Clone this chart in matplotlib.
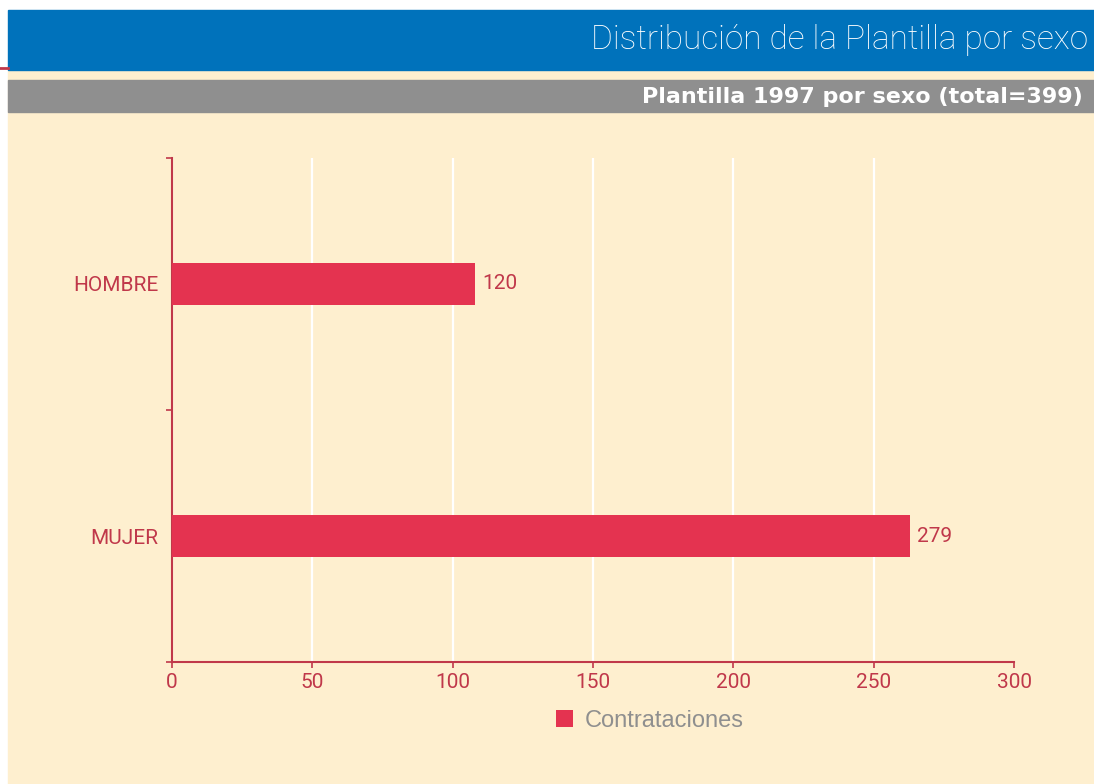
import matplotlib
matplotlib.use("Agg")
import matplotlib.pyplot as plt
from matplotlib.patches import Rectangle
from matplotlib.lines import Line2D

# data
categories = ["HOMBRE", "MUJER"]
bar_lengths = [108, 263]
value_labels = ["120", "279"]
x_ticks = [0, 50, 100, 150, 200, 250, 300]
series_name = "Contrataciones"
title = "Distribución de la Plantilla por sexo"
subtitle = "Plantilla 1997 por sexo (total=399)"

blue = "#0072BB"
grey = "#8F8F8F"
cream = "#FEEFCF"
bar_red = "#E43350"
axis_red = "#C0384A"
narrow = ["Roboto", "DejaVu Sans"]

W, H = 1094, 784
fig = plt.figure(figsize=(W / 100, H / 100), dpi=100)
fig.patch.set_facecolor("white")

# background bands (figure pixel coords -> fractions)
def band(x0, y0, x1, y1, color):
    fig.patches.append(Rectangle((x0 / W, 1 - y1 / H), (x1 - x0) / W, (y1 - y0) / H,
                                 transform=fig.transFigure, color=color, zorder=0))

band(8, 70, W, 784, cream)
band(8, 10, W, 70, blue)
band(8, 80, W, 112, grey)
fig.lines.append(Line2D([0, 8 / W], [1 - 68 / H, 1 - 68 / H], transform=fig.transFigure,
                        color=axis_red, lw=2))

fig.text(1088 / W, 1 - 40 / H, title, ha="right", va="center", color="white",
         fontsize=24, fontweight="light", family=narrow)
fig.text(1083 / W, 1 - 97 / H, subtitle, ha="right", va="center", color="white",
         fontsize=16, fontweight="bold", family="DejaVu Sans")

ax = fig.add_axes([172 / W, 1 - 662 / H, 842 / W, 504 / H])
ax.set_zorder(5)
ax.patch.set_alpha(0)

ypos = list(range(len(categories)))
bars = ax.barh(ypos, bar_lengths, height=0.17, color=bar_red, zorder=3, label=series_name)
for b, lab in zip(bars, value_labels):
    ax.text(b.get_width() + 2.5, b.get_y() + b.get_height() / 2, lab, va="center", ha="left",
            color=axis_red, fontsize=15, family=narrow)

ax.set_xlim(0, 300)
ax.set_ylim(1.5, -0.5)
ax.set_xticks(x_ticks)
ax.set_xticklabels([str(t) for t in x_ticks], family=narrow)
ax.set_yticks([-0.5, 0.5, 1.5])
ax.set_yticklabels([])
ax.set_yticks(ypos, minor=True)
ax.set_yticklabels(categories, minor=True, family=narrow)
ax.tick_params(axis="y", which="minor", length=0, pad=10, labelsize=15, labelcolor=axis_red)
ax.tick_params(axis="y", which="major", length=4, color=axis_red, width=1.2)
ax.tick_params(axis="x", length=4, color=axis_red, width=1.2, labelsize=15,
               labelcolor=axis_red, pad=4)

ax.grid(axis="x", color="white", lw=1.6, zorder=1)
ax.get_xgridlines()[-1].set_visible(False)
ax.set_axisbelow(True)
for s in ["top", "right"]:
    ax.spines[s].set_visible(False)
for s in ["left", "bottom"]:
    ax.spines[s].set_color(axis_red)
    ax.spines[s].set_linewidth(1.5)

leg = fig.legend(handles=[bars], labels=[series_name], loc="center",
                 bbox_to_anchor=(650 / W, 1 - 721 / H), frameon=False,
                 handlelength=0.7, handleheight=0.7, handletextpad=0.5,
                 prop={"size": 17, "family": "Liberation Sans"})
for t in leg.get_texts():
    t.set_color(grey)

fig.savefig("out.png", dpi=100, facecolor=fig.get_facecolor())
